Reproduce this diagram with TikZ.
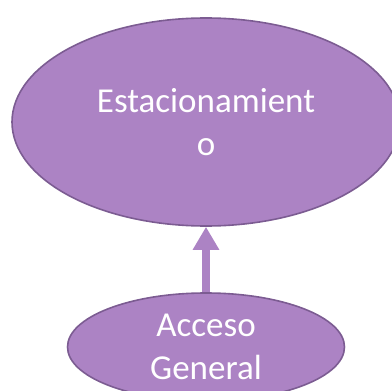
\documentclass[tikz,border=0pt]{standalone}
\usepackage{fontspec}
\setmainfont{Carlito}
\usetikzlibrary{arrows.meta,shapes.geometric}

\definecolor{lila}{RGB}{172,131,196}
\definecolor{lilaborde}{RGB}{124,92,146}

\tikzset{
  bubble/.style={ellipse, draw=lilaborde, line width=1.6pt, fill=lila,
    text=white, align=center, inner sep=0pt,
    font=\fontsize{35}{43}\selectfont},
  flecha/.style={draw=lila, line width=8.5pt,
    -{Triangle[width=25pt,length=23pt,fill=lila]}}
}

\begin{document}
\begin{tikzpicture}[x=1pt,y=-1pt]

\useasboundingbox (0,0) rectangle (392,391);

\node[bubble, minimum width=388pt, minimum height=208pt] (estac) at (206,122)
  {Estacionamient\\o};

\node[bubble, minimum width=277pt, minimum height=108pt] (acceso) at (206,347)
  {Acceso\\General};

\draw[flecha] (acceso.north) -- (estac.south);

\end{tikzpicture}
\end{document}
